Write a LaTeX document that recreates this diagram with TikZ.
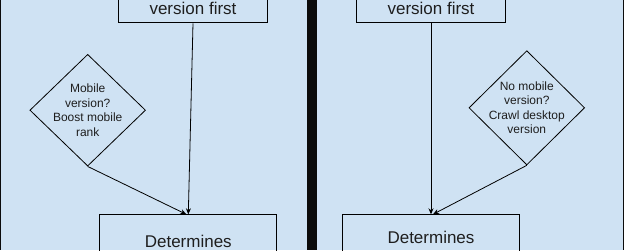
\documentclass[tikz,border=0pt]{standalone}
\usepackage{fontspec}
\setmainfont{Liberation Sans}
\usetikzlibrary{arrows.meta,shapes.geometric}
\definecolor{panelblue}{HTML}{CFE2F3}
\definecolor{framedark}{HTML}{0B0B0B}
\definecolor{inkgray}{HTML}{1E1E1E}

\begin{document}
\begin{tikzpicture}[
        x=1pt, y=-1pt,
        box/.style={draw, line width=0.9pt, text=inkgray, inner xsep=0pt, inner ysep=0pt, text depth=0pt, align=center, font=\fontsize{17}{20}\selectfont},
        decision/.style={draw, diamond, line width=0.8pt, text=inkgray, inner sep=-5pt, align=center, font=\fontsize{12}{14.4}\selectfont},
        arrow/.style={-{Stealth[length=6pt, width=5pt]}, line width=0.8pt}
    ]
        \useasboundingbox (0,0) rectangle (624,250);
        \clip (0,0) rectangle (624,250);
        \fill[framedark] (0,0) rectangle (624,250);
        \fill[panelblue] (1.3,0) rectangle (306.7,250);
        \fill[panelblue] (317.3,0) rectangle (622.7,250);

        % left panel
        \node[box, minimum width=149.4pt, text height=40pt, inner ysep=8.3pt, anchor=south] (crawlL) at (193,23.3) {version first};
        \node[box, minimum width=177pt, text height=33pt, text depth=30pt, anchor=north] (detL) at (188.3,214.3) {Determines};
        \node[decision, minimum width=115.7pt, minimum height=111.7pt] (mobilechk) at (87.7,110.2) {Mobile\\version?\\Boost mobile\\rank};

        \draw[arrow] (crawlL.south) -- (detL.north);
        \draw[arrow] (mobilechk.south) -- ([xshift=-2pt]detL.north);

        % right panel
        \node[box, minimum width=149.4pt, text height=40pt, inner ysep=8.3pt, anchor=south] (crawlR) at (431,23.3) {version first};
        \node[box, minimum width=177pt, text height=29pt, text depth=30pt, anchor=north] (detR) at (431,214.3) {Determines};
        \node[decision, minimum width=115.7pt, minimum height=114.3pt] (desktopchk) at (526.8,107.8) {No mobile\\version?\\Crawl desktop\\version};

        \draw[arrow] (crawlR.south) -- (detR.north);
        \draw[arrow] (desktopchk.south) -- ([xshift=2pt]detR.north);
    \end{tikzpicture}
\end{document}
